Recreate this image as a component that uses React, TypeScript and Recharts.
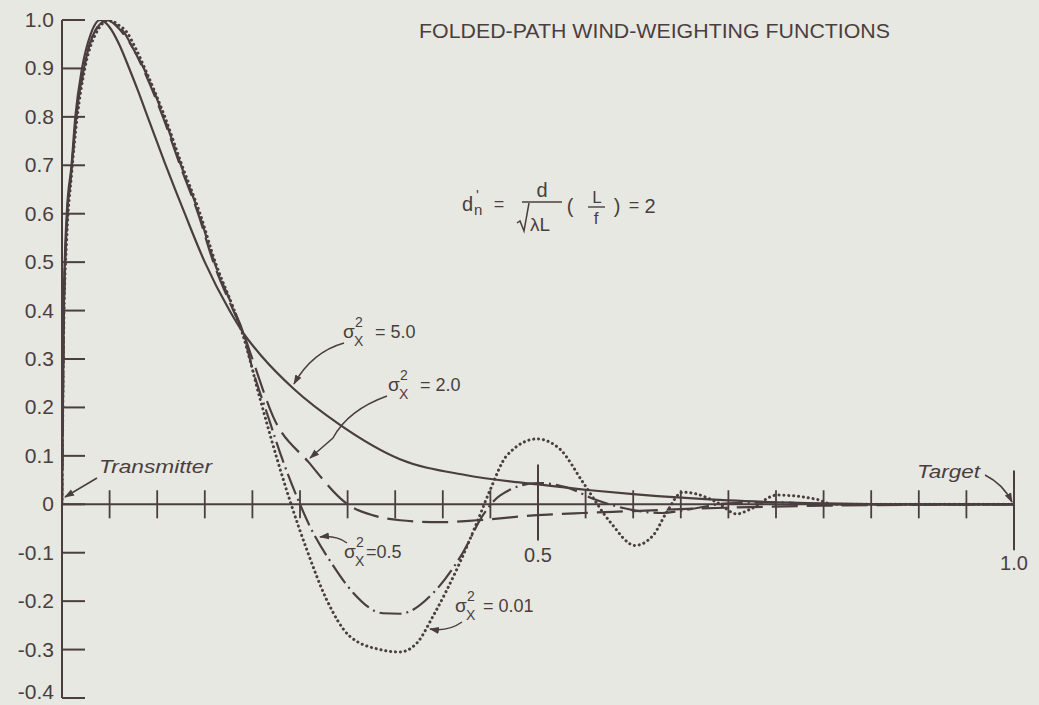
import React from 'react';
import {
  LineChart,
  Line,
  XAxis,
  YAxis,
  ReferenceLine,
  ReferenceDot,
} from 'recharts';

const INK = '#4a3e3f';
const PAPER = '#e7e8e1';
const FONT = '"Liberation Sans", Arial, sans-serif';

const WIDTH = 1039;
const HEIGHT = 705;
const AXIS_X = 62;

// weighting function for sigma_x^2 = 5.0 (solid)
const sigma50X = [0, 0.002, 0.005, 0.01, 0.014, 0.021, 0.03, 0.04, 0.05, 0.06, 0.07, 0.08, 0.089, 0.108, 0.129, 0.15, 0.176, 0.19, 0.21, 0.243, 0.292, 0.355, 0.425, 0.5, 0.555, 0.6, 0.7, 0.8, 0.9, 1.0];
const sigma50Y = [0, 0.42, 0.6, 0.7, 0.8, 0.9, 0.97, 1.0, 0.985, 0.95, 0.903, 0.853, 0.805, 0.705, 0.6, 0.5, 0.4, 0.355, 0.305, 0.239, 0.164, 0.093, 0.06, 0.041, 0.029, 0.021, 0.008, 0.002, 0, 0];

// sigma_x^2 = 2.0 (long dash)
const sigma20X = [0, 0.002, 0.005, 0.01, 0.015, 0.023, 0.033, 0.047, 0.056, 0.065, 0.075, 0.085, 0.106, 0.124, 0.143, 0.159, 0.18, 0.19, 0.2, 0.222, 0.259, 0.3, 0.327, 0.355, 0.397, 0.436, 0.495, 0.547, 0.6, 0.65, 0.7, 0.8, 0.9, 1.0];
const sigma20Y = [0, 0.4, 0.58, 0.69, 0.8, 0.9, 0.97, 1.0, 0.99, 0.97, 0.94, 0.9, 0.8, 0.7, 0.6, 0.5, 0.4, 0.356, 0.3, 0.18, 0.087, 0.0, -0.023, -0.033, -0.037, -0.033, -0.023, -0.018, -0.014, -0.01, -0.007, -0.003, -0.001, 0];

// sigma_x^2 = 0.5 (dash-dot)
const sigma05X = [0, 0.002, 0.005, 0.01, 0.015, 0.023, 0.033, 0.048, 0.057, 0.065, 0.075, 0.086, 0.107, 0.125, 0.144, 0.16, 0.181, 0.19, 0.2, 0.215, 0.232, 0.25, 0.26, 0.285, 0.306, 0.337, 0.355, 0.39, 0.421, 0.442, 0.46, 0.5, 0.53, 0.56, 0.6, 0.63, 0.66, 0.7, 0.75, 0.8, 0.9, 1.0];
const sigma05Y = [0, 0.4, 0.57, 0.69, 0.8, 0.9, 0.97, 1.0, 0.99, 0.975, 0.94, 0.9, 0.8, 0.7, 0.6, 0.5, 0.4, 0.356, 0.28, 0.19, 0.09, 0.0, -0.044, -0.127, -0.183, -0.225, -0.226, -0.183, -0.1, -0.023, 0.018, 0.044, 0.035, 0.01, -0.012, -0.018, -0.01, 0.002, 0.004, 0, 0, 0];

// sigma_x^2 = 0.01 (dotted)
const sigma001X = [0, 0.002, 0.005, 0.01, 0.016, 0.024, 0.035, 0.05, 0.059, 0.068, 0.077, 0.087, 0.108, 0.126, 0.145, 0.161, 0.181, 0.189, 0.208, 0.226, 0.24, 0.257, 0.278, 0.302, 0.334, 0.355, 0.373, 0.39, 0.418, 0.436, 0.45, 0.467, 0.499, 0.523, 0.547, 0.576, 0.602, 0.621, 0.635, 0.652, 0.667, 0.688, 0.709, 0.723, 0.751, 0.793, 0.81, 0.9, 1.0];
const sigma001Y = [0, 0.38, 0.55, 0.68, 0.8, 0.9, 0.97, 1.0, 0.99, 0.975, 0.943, 0.9, 0.8, 0.7, 0.6, 0.5, 0.4, 0.356, 0.218, 0.093, 0.004, -0.093, -0.197, -0.272, -0.3, -0.305, -0.286, -0.23, -0.12, -0.037, 0.031, 0.1, 0.135, 0.114, 0.046, -0.037, -0.085, -0.064, -0.017, 0.025, 0.021, 0.004, -0.02, -0.01, 0.019, 0.01, 0, 0, 0];

const yTicks = [1.0, 0.9, 0.8, 0.7, 0.6, 0.5, 0.4, 0.3, 0.2, 0.1, 0, -0.1, -0.2, -0.3, -0.4];
const yTickLabels = ['1.0', '0.9', '0.8', '0.7', '0.6', '0.5', '0.4', '0.3', '0.2', '0.1', '0', '-0.1', '-0.2', '-0.3', '-0.4'];

// small crosses along the zero line, every 0.05
const xMinorTicks = [0.05, 0.1, 0.15, 0.2, 0.25, 0.3, 0.35, 0.4, 0.45, 0.55, 0.6, 0.65, 0.7, 0.75, 0.8, 0.85, 0.9, 0.95];
const xMajorTicks = [0.5, 1.0];
const xMajorLabels = ['0.5', '1.0'];

const toPoints = (xs: number[], ys: number[]) => xs.map((x, i) => ({ x, y: ys[i] }));

const YTick = (props: any) => {
  const { y, payload } = props;
  const idx = yTicks.indexOf(payload.value);
  // keep the lowest label inside the page
  const baseline = Math.min(y + 7, HEIGHT - 6);
  return (
    <g>
      <line x1={AXIS_X} x2={AXIS_X + 23} y1={y} y2={y} stroke={INK} strokeWidth={2} />
      <text x={AXIS_X - 8} y={baseline} textAnchor="end" fontSize={21} fill={INK} fontFamily={FONT}>
        {yTickLabels[idx]}
      </text>
    </g>
  );
};

const Sigma = ({ x, y, value, gap }: { x: number; y: number; value: string; gap: number }) => (
  <g fill={INK} fontFamily={FONT}>
    <text x={x} y={y} fontSize={19}>σ</text>
    <text x={x + 12} y={y - 11} fontSize={14}>2</text>
    <text x={x + 11} y={y + 8} fontSize={14}>X</text>
    <text x={x + gap} y={y} fontSize={18}>{value}</text>
  </g>
);

const Annotations = () => (
  <svg width={WIDTH} height={HEIGHT} style={{ position: 'absolute', left: 0, top: 0, pointerEvents: 'none' }}>
    <defs>
      <marker id="tip" viewBox="0 0 10 10" refX="9" refY="5" markerWidth="10" markerHeight="10" orient="auto" markerUnits="userSpaceOnUse">
        <path d="M0,1.5 L10,5 L0,8.5 z" fill={INK} />
      </marker>
    </defs>

    <text x={419} y={38} fontSize={21} fill={INK} fontFamily={FONT} textLength={471} lengthAdjust="spacingAndGlyphs">
      FOLDED-PATH WIND-WEIGHTING FUNCTIONS
    </text>

    {/* d_n' = d / sqrt(lambda L) (L / f) = 2 */}
    <g fill={INK} fontFamily={FONT}>
      <text x={462} y={211} fontSize={20}>d</text>
      <text x={474} y={215} fontSize={15}>n</text>
      <text x={476} y={200} fontSize={15}>'</text>
      <text x={499} y={210} fontSize={18} textAnchor="middle">=</text>
      <line x1={522} x2={562} y1={202} y2={202} stroke={INK} strokeWidth={1.6} />
      <text x={542} y={197} fontSize={20} textAnchor="middle">d</text>
      <path d="M517,223 L520,221 L524,231 L529,203" fill="none" stroke={INK} strokeWidth={1.5} />
      <text x={530} y={231} fontSize={19}>λL</text>
      <text x={570} y={213} fontSize={20} textAnchor="middle">(</text>
      <text x={597} y={203} fontSize={17} textAnchor="middle">L</text>
      <line x1={588} x2={605} y1={207} y2={207} stroke={INK} strokeWidth={1.4} />
      <text x={596} y={224} fontSize={17} textAnchor="middle">f</text>
      <text x={617} y={213} fontSize={20} textAnchor="middle">)</text>
      <text x={634} y={211} fontSize={18} textAnchor="middle">=</text>
      <text x={650} y={213} fontSize={20} textAnchor="middle">2</text>
    </g>

    <Sigma x={343} y={338} value="= 5.0" gap={32} />
    <path d="M344,343 Q312,352 294,384" fill="none" stroke={INK} strokeWidth={1.5} markerEnd="url(#tip)" />

    <Sigma x={388} y={391} value="= 2.0" gap={32} />
    <path d="M387,396 Q348,410 333,438 L310,458" fill="none" stroke={INK} strokeWidth={1.5} markerEnd="url(#tip)" />

    <Sigma x={344} y={558} value="=0.5" gap={22} />
    <path d="M347,543 Q336,535 320,537" fill="none" stroke={INK} strokeWidth={1.5} markerEnd="url(#tip)" />

    <Sigma x={455} y={612} value="= 0.01" gap={28} />
    <path d="M462,622 Q448,632 430,629" fill="none" stroke={INK} strokeWidth={1.5} markerEnd="url(#tip)" />

    <text x={99} y={473} fontSize={19} fontStyle="italic" fill={INK} fontFamily={FONT} textLength={113} lengthAdjust="spacingAndGlyphs">
      Transmitter
    </text>
    <path d="M97,478 L65,497" fill="none" stroke={INK} strokeWidth={1.6} markerEnd="url(#tip)" />

    <text x={917} y={478} fontSize={19} fontStyle="italic" fill={INK} fontFamily={FONT} textLength={63} lengthAdjust="spacingAndGlyphs">
      Target
    </text>
    <path d="M985,475 Q1003,484 1012,502" fill="none" stroke={INK} strokeWidth={1.6} markerEnd="url(#tip)" />
  </svg>
);

export default function App() {
  return (
    <div style={{ position: 'absolute', left: 0, top: 0, width: WIDTH, height: HEIGHT, background: PAPER }}>
      <LineChart width={WIDTH} height={HEIGHT} margin={{ top: 20, right: 25, bottom: 7, left: 0 }}>
        <XAxis type="number" dataKey="x" domain={[0, 1]} hide allowDataOverflow />
        <YAxis
          type="number"
          domain={[-0.4, 1.0]}
          ticks={yTicks}
          interval={0}
          width={AXIS_X}
          axisLine={{ stroke: INK, strokeWidth: 2 }}
          tickLine={false}
          tick={<YTick />}
          allowDataOverflow
        />
        <ReferenceLine y={0} stroke={INK} strokeWidth={2} ifOverflow="visible" />
        {xMinorTicks.map((t) => (
          <ReferenceLine
            key={`mt-${t}`}
            segment={[{ x: t, y: -0.029 }, { x: t, y: 0.029 }]}
            stroke={INK}
            strokeWidth={1.8}
            ifOverflow="visible"
          />
        ))}
        {xMajorTicks.map((t, i) => (
          <ReferenceLine
            key={`MT-${t}`}
            segment={[{ x: t, y: i === 0 ? -0.075 : -0.095 }, { x: t, y: i === 0 ? 0.082 : 0.07 }]}
            stroke={INK}
            strokeWidth={2}
            ifOverflow="visible"
          />
        ))}
        {xMajorTicks.map((t, i) => (
          <ReferenceDot
            key={`ML-${t}`}
            x={t}
            y={i === 0 ? -0.105 : -0.122}
            r={0}
            fill="none"
            stroke="none"
            ifOverflow="visible"
            label={{ value: xMajorLabels[i], position: 'center', fill: INK, fontSize: 20, fontFamily: FONT }}
          />
        ))}
        <Line
          data={toPoints(sigma50X, sigma50Y)}
          dataKey="y"
          type="monotone"
          stroke={INK}
          strokeWidth={2.2}
          dot={false}
          isAnimationActive={false}
        />
        <Line
          data={toPoints(sigma20X, sigma20Y)}
          dataKey="y"
          type="monotone"
          stroke={INK}
          strokeWidth={2.2}
          strokeDasharray="26 9"
          dot={false}
          isAnimationActive={false}
        />
        <Line
          data={toPoints(sigma05X, sigma05Y)}
          dataKey="y"
          type="monotone"
          stroke={INK}
          strokeWidth={2.2}
          strokeDasharray="22 5 2 5"
          dot={false}
          isAnimationActive={false}
        />
        <Line
          data={toPoints(sigma001X, sigma001Y)}
          dataKey="y"
          type="monotone"
          stroke={INK}
          strokeWidth={3}
          strokeDasharray="0.1 4.8"
          strokeLinecap="round"
          dot={false}
          isAnimationActive={false}
        />
      </LineChart>
      <Annotations />
    </div>
  );
}
